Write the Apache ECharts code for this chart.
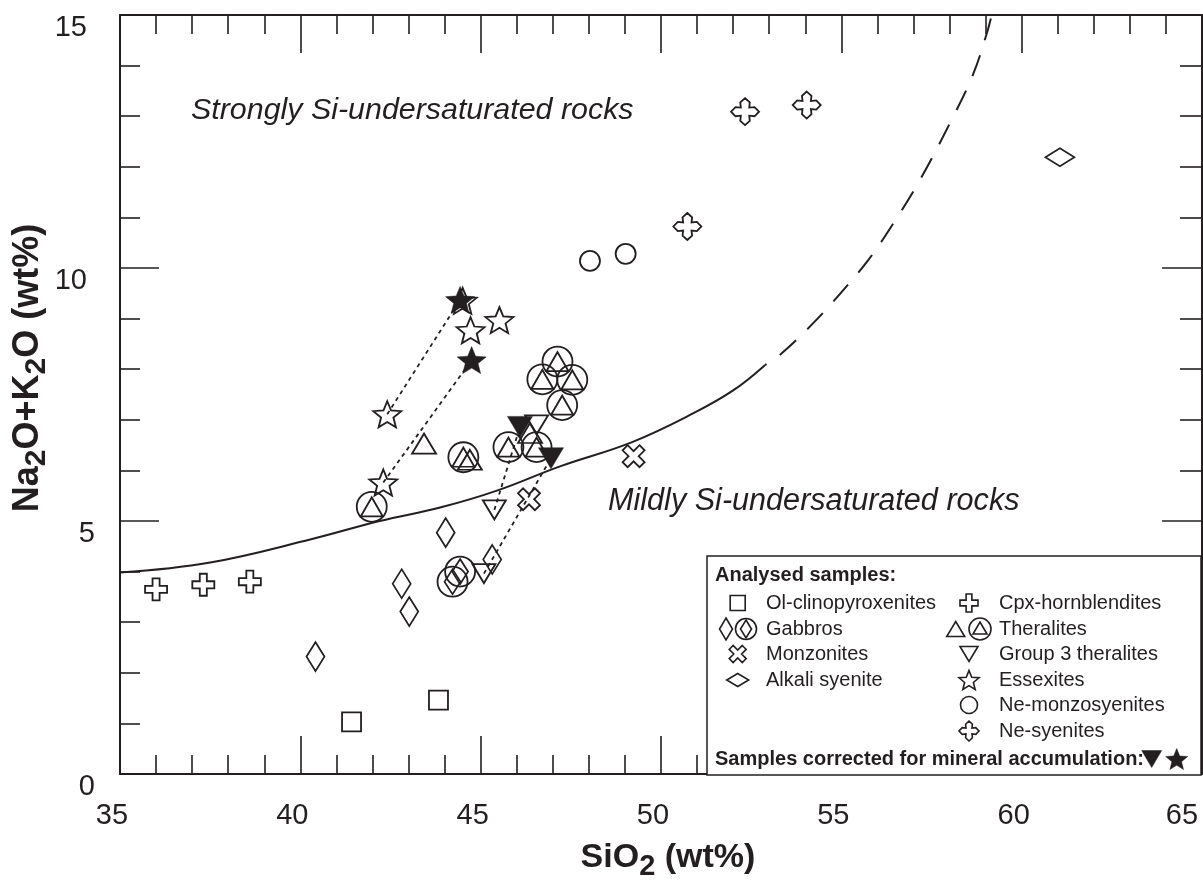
<!DOCTYPE html>
<html>
<head>
<meta charset="utf-8">
<script src="https://cdn.jsdelivr.net/npm/echarts@6/dist/echarts.min.js"></script>
<style>
html,body{margin:0;padding:0;background:#fff;}
#chart{width:1203px;height:880px;}
</style>
</head>
<body>
<div id="chart"></div>
<script>
// ---------------- DATA ----------------
const xTicks = [35, 40, 45, 50, 55, 60, 65];
const yTicks = [0, 5, 10, 15];

const olClinopyroxenites = [[41.42,1.03],[43.83,1.46]];
const gabbros = [[40.42,2.32],[42.81,3.76],[43.02,3.21],[44.03,4.77],[45.32,4.24]];
const gabbrosCircled = [[44.22,3.80],[44.43,4.00]];
const monzonites = [[46.34,5.43],[49.24,6.28]];
const alkaliSyenite = [[61.06,12.19]];
const cpxHornblendites = [[36.00,3.65],[37.31,3.74],[38.60,3.80]];
const theralites = [[43.43,6.53],[44.70,6.21],[46.37,6.74]];
const theralitesCircled = [[41.98,5.28],[44.52,6.26],[45.77,6.46],[46.55,6.46],[46.71,7.80],[47.13,8.15],[47.54,7.79],[47.26,7.29]];
const group3Theralites = [[45.09,3.96],[45.38,5.22],[46.55,6.90]];
const essexites = [[42.41,7.11],[42.30,5.76],[44.50,9.35],[44.72,8.77],[45.52,8.97]];
const neMonzosyenites = [[48.03,10.14],[49.02,10.28]];
const neSyenites = [[50.73,10.82],[52.33,13.09],[54.04,13.22]];
const correctedGroup3 = [[46.09,6.86],[46.95,6.24]];
const correctedEssexites = [[44.43,9.37],[44.75,8.18]];

// tie lines: [original sample, corrected sample]
const tieLines = [
  [essexites[0], correctedEssexites[0]],
  [essexites[1], correctedEssexites[1]],
  [group3Theralites[1], correctedGroup3[0]],
  [group3Theralites[0], correctedGroup3[1]]
];

const boundarySolid = [[35.0,3.98],[37.5,4.18],[40.3,4.64],[42.2,5.00],[43.9,5.27],[45.45,5.60],[47.2,6.08],[49.2,6.56],[50.9,7.13],[52.0,7.58],[52.88,8.08]];
const boundaryDashed = [[52.88,8.08],[53.34,8.31],[54.22,8.91],[55.0,9.52],[55.75,10.16],[56.44,10.88],[57.18,11.74],[58.15,13.06],[58.66,13.84],[59.03,14.63],[59.17,15.0]];

// ---------------- STYLE ----------------
const INK = '#231f20';
const FONT = '"Liberation Sans", Arial, Helvetica, sans-serif';

// marker outlines in a 10x10 box
const SHAPES = {
  tri: [[5,0],[10,8.66],[0,8.66]],
  itri: [[0,0],[10,0],[5,8.66]],
  diamond: [[5,0],[10,5],[5,10],[0,5]],
  square: [[0,0],[10,0],[10,10],[0,10]],
  plus: [[3.4,0],[6.6,0],[6.6,3.4],[10,3.4],[10,6.6],[6.6,6.6],[6.6,10],[3.4,10],[3.4,6.6],[0,6.6],[0,3.4],[3.4,3.4]],
  cross: [[7.475,0.404],[9.596,2.525],[7.121,5],[9.596,7.475],[7.475,9.596],[5,7.121],[2.525,9.596],[0.404,7.475],[2.879,5],[0.404,2.525],[2.525,0.404],[5,2.879]],
  star: [[5,0],[6.293,3.22],[9.755,3.455],[7.092,5.68],[7.939,9.045],[5,7.2],[2.061,9.045],[2.908,5.68],[0.245,3.455],[3.707,3.22]],
  quat: [[5,0],[6.7,1.6],[6.5,3.5],[8.4,3.3],[10,5],[8.4,6.7],[6.5,6.5],[6.7,8.4],[5,10],[3.3,8.4],[3.5,6.5],[1.6,6.7],[0,5],[1.6,3.3],[3.5,3.5],[3.3,1.6]]
};
function symPath(name) {
  return 'path://' + SHAPES[name].map(function (p, i) { return (i ? 'L' : 'M') + p[0] + ',' + p[1]; }).join(' ') + ' Z';
}

function scatter(name, data, symbol, size, filled, z) {
  return {
    name: name, type: 'scatter', data: data,
    symbol: symbol, symbolSize: size,
    z: z || 3,
    silent: true,
    itemStyle: {
      color: filled ? INK : 'rgba(0,0,0,0)',
      borderColor: INK,
      borderWidth: filled ? 0.5 : 1.8,
      opacity: 1
    },
    emphasis: { disabled: true }
  };
}

const series = [];
series.push({
  type: 'line', data: boundarySolid, smooth: 0.4, symbol: 'none', silent: true, z: 2,
  lineStyle: { color: INK, width: 2 }
});
series.push({
  type: 'line', data: boundaryDashed, smooth: 0.4, symbol: 'none', silent: true, z: 2,
  lineStyle: { color: INK, width: 2, type: [22, 16], dashOffset: 20 }
});
tieLines.forEach(function (pair) {
  series.push({
    type: 'line', data: pair, symbol: 'none', silent: true, z: 2,
    lineStyle: { color: INK, width: 1.8, type: [4, 4] }
  });
});

series.push(scatter('Ol-clinopyroxenites', olClinopyroxenites, 'rect', 19));
series.push(scatter('Gabbros', gabbros, symPath('diamond'), [18, 29]));
series.push(scatter('Gabbros circled', gabbrosCircled, 'circle', 30));
series.push(scatter('Gabbros circled inner', gabbrosCircled, symPath('diamond'), [16, 25]));
series.push(scatter('Monzonites', monzonites, symPath('cross'), [22, 22]));
series.push(scatter('Alkali syenite', alkaliSyenite, symPath('diamond'), [29, 18]));
series.push(scatter('Cpx-hornblendites', cpxHornblendites, symPath('plus'), [22, 22]));
series.push(scatter('Theralites', theralites, symPath('tri'), [24, 20]));
series.push(scatter('Theralites circled', theralitesCircled, 'circle', 30));
series.push(scatter('Theralites circled inner', theralitesCircled, symPath('tri'), [22, 19]));
series.push(scatter('Group 3 theralites', group3Theralites, symPath('itri'), [23, 19]));
series.push(scatter('Essexites', essexites, symPath('star'), [28, 26]));
series.push(scatter('Ne-monzosyenites', neMonzosyenites, 'circle', 20));
series.push(scatter('Ne-syenites', neSyenites, symPath('quat'), [28, 27]));
series.push(scatter('Corrected group 3', correctedGroup3, symPath('itri'), [25, 21], true, 4));
series.push(scatter('Corrected essexites', correctedEssexites, symPath('star'), [29, 27], true, 4));

// ---------------- LEGEND (graphic) ----------------
const LX = 707, LY = 556, LW = 494, LH = 219;
const leftSym = 737.7, rightSym = 969, leftText = 766, rightText = 999;
const rowY = [603, 629, 654, 680, 705, 731];

function gPoly(name, cx, cy, w, h, filled) {
  const pts = SHAPES[name];
  let minX = Infinity, maxX = -Infinity, minY = Infinity, maxY = -Infinity;
  pts.forEach(function (p) { minX = Math.min(minX, p[0]); maxX = Math.max(maxX, p[0]); minY = Math.min(minY, p[1]); maxY = Math.max(maxY, p[1]); });
  const mapped = pts.map(function (p) {
    return [cx - w / 2 + (p[0] - minX) / (maxX - minX) * w, cy - h / 2 + (p[1] - minY) / (maxY - minY) * h];
  });
  return {
    type: 'polygon', z: 101,
    shape: { points: mapped },
    style: { fill: filled ? INK : 'none', stroke: INK, lineWidth: filled ? 0.5 : 1.6 }
  };
}
function gCircle(cx, cy, r) {
  return { type: 'circle', z: 101, shape: { cx: cx, cy: cy, r: r }, style: { fill: 'none', stroke: INK, lineWidth: 1.6 } };
}
function gText(txt, x, y, size, bold) {
  return {
    type: 'text', z: 101, x: x, y: y,
    style: { text: txt, fill: INK, font: (bold ? 'bold ' : '') + size + 'px ' + FONT, align: 'left', verticalAlign: 'middle' }
  };
}

// text with subscripts: parts = [[text, isSub], ...], laid out along local x
const measureCtx = document.createElement('canvas').getContext('2d');
function subscriptText(parts, mainSize, subSize, subShift) {
  const mainFont = 'bold ' + mainSize + 'px ' + FONT;
  const subFont = 'bold ' + subSize + 'px ' + FONT;
  const widths = parts.map(function (p) { measureCtx.font = p[1] ? subFont : mainFont; return measureCtx.measureText(p[0]).width; });
  const total = widths.reduce(function (a, b) { return a + b; }, 0);
  let cur = -total / 2;
  return parts.map(function (p, i) {
    const el = {
      type: 'text', x: cur, y: p[1] ? subShift : 0, z: 50,
      style: { text: p[0], fill: INK, font: p[1] ? subFont : mainFont, align: 'left', verticalAlign: 'middle' }
    };
    cur += widths[i];
    return el;
  });
}

const graphics = [
  { type: 'rect', z: 100, shape: { x: LX, y: LY, width: LW, height: LH }, style: { fill: '#fff', stroke: INK, lineWidth: 1.5 } },
  gText('Analysed samples:', 715, 575, 20, true),
  gPoly('square', leftSym, rowY[0], 15, 15), gText('Ol-clinopyroxenites', leftText, rowY[0], 20),
  gPoly('diamond', 726, rowY[1], 13, 22), gCircle(746, rowY[1], 10.5), gPoly('diamond', 746, rowY[1], 11, 18), gText('Gabbros', leftText, rowY[1], 20),
  gPoly('cross', leftSym, rowY[2], 17, 17), gText('Monzonites', leftText, rowY[2], 20),
  gPoly('diamond', leftSym, rowY[3], 22, 13), gText('Alkali syenite', leftText, rowY[3], 20),
  gPoly('plus', rightSym, rowY[0], 18, 18), gText('Cpx-hornblendites', rightText, rowY[0], 20),
  gPoly('tri', 955.7, rowY[1], 18, 15), gCircle(980, rowY[1], 11), gPoly('tri', 980, rowY[1] - 1, 14, 12), gText('Theralites', rightText, rowY[1], 20),
  gPoly('itri', rightSym, rowY[2], 18, 15), gText('Group 3 theralites', rightText, rowY[2], 20),
  gPoly('star', rightSym, rowY[3], 20, 19), gText('Essexites', rightText, rowY[3], 20),
  gCircle(rightSym, rowY[4], 8.5), gText('Ne-monzosyenites', rightText, rowY[4], 20),
  gPoly('quat', rightSym, rowY[5], 20, 20), gText('Ne-syenites', rightText, rowY[5], 20),
  gText('Samples corrected for mineral accumulation:', 715, 759.5, 20, true),
  gPoly('itri', 1151.7, 759, 20, 17, true),
  gPoly('star', 1176.7, 759, 22, 21, true),
  {
    type: 'text', z: 50, x: 191, y: 111,
    style: { text: 'Strongly Si-undersaturated rocks', fill: INK, font: 'italic 30.4px ' + FONT, align: 'left', verticalAlign: 'middle' }
  },
  {
    type: 'text', z: 50, x: 608, y: 501,
    style: { text: 'Mildly Si-undersaturated rocks', fill: INK, font: 'italic 30.6px ' + FONT, align: 'left', verticalAlign: 'middle' }
  },
  {
    type: 'group', x: 668, y: 858,
    children: subscriptText([['SiO', false], ['2', true], [' (wt%)', false]], 34, 29, 9)
  },
  {
    type: 'group', x: 28, y: 368, rotation: Math.PI / 2,
    children: subscriptText([['Na', false], ['2', true], ['O+K', false], ['2', true], ['O (wt%)', false]], 36, 30, 9)
  }
];

// ---------------- AXES ----------------
const tickStyle = { color: INK, width: 1.6 };
function xAxisDef(pos, labels) {
  return {
    type: 'value', position: pos, min: xTicks[0], max: xTicks[xTicks.length - 1], interval: 5,
    axisLine: { show: true, onZero: false, lineStyle: { color: INK, width: 2 } },
    axisTick: { show: true, inside: true, length: 38, lineStyle: tickStyle },
    minorTick: { show: true, splitNumber: 5, length: 19, lineStyle: tickStyle },
    splitLine: { show: false }, minorSplitLine: { show: false },
    axisLabel: labels ? {
      show: true, margin: 27, showMinLabel: true, showMaxLabel: true, hideOverlap: false,
      fontFamily: FONT, fontSize: 29, color: INK,
      formatter: function (v) { return v === 65 ? '{e|' + v + '}' : '{n|' + v + '}'; },
      rich: {
        n: { fontFamily: FONT, fontSize: 29, color: INK, padding: [0, 16, 0, 0] },
        e: { fontFamily: FONT, fontSize: 29, color: INK, padding: [0, 40, 0, 0] }
      }
    } : { show: false }
  };
}
function yAxisDef(pos, labels) {
  return {
    type: 'value', position: pos, min: yTicks[0], max: yTicks[yTicks.length - 1], interval: 5,
    axisLine: { show: true, onZero: false, lineStyle: { color: INK, width: 2 } },
    axisTick: { show: true, inside: true, length: labels ? 39 : 40, lineStyle: tickStyle },
    minorTick: { show: true, splitNumber: 5, length: labels ? 20 : 22, lineStyle: tickStyle },
    splitLine: { show: false }, minorSplitLine: { show: false },
    axisLabel: labels ? {
      show: true, margin: 25, showMinLabel: true, showMaxLabel: true, hideOverlap: false,
      fontFamily: FONT, fontSize: 29, color: INK,
      formatter: function (v) { return v >= 10 ? '{d|' + v + '}' : '{s|' + v + '}'; },
      rich: {
        d: { fontFamily: FONT, fontSize: 29, color: INK, padding: [26, 8, 0, 0] },
        s: { fontFamily: FONT, fontSize: 29, color: INK, padding: [26, 0, 0, 0] }
      }
    } : { show: false }
  };
}

const chart = echarts.init(document.getElementById('chart'), null, { renderer: 'canvas' });
chart.setOption({
  backgroundColor: '#fff',
  animation: false,
  grid: { left: 120, top: 15, width: 1082, height: 759, containLabel: false, outerBoundsMode: 'none' },
  xAxis: [xAxisDef('bottom', true), xAxisDef('top', false)],
  yAxis: [yAxisDef('left', true), yAxisDef('right', false)],
  tooltip: { show: false },
  series: series,
  graphic: { elements: graphics }
});
</script>
</body>
</html>
